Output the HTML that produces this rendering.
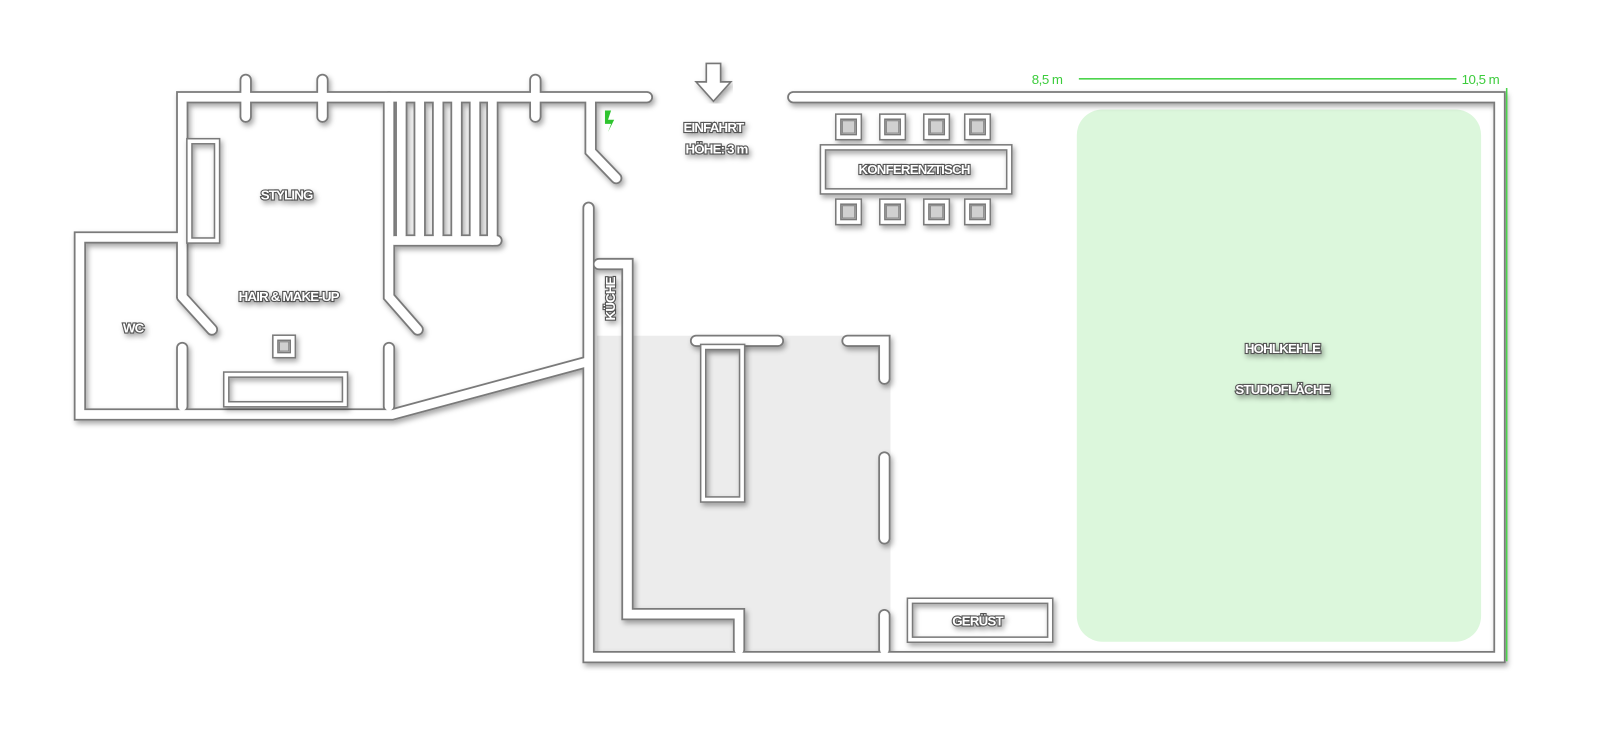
<!DOCTYPE html>
<html><head><meta charset="utf-8"><style>
html,body{margin:0;padding:0;background:#fff;}
svg{display:block;}
.t{font-family:"Liberation Sans",sans-serif;font-weight:bold;font-size:13px;fill:#fff;stroke:#555;stroke-width:2.2px;paint-order:stroke;text-anchor:middle;letter-spacing:-0.8px;}
.g{font-family:"Liberation Sans",sans-serif;font-size:13px;fill:#3ccc3c;letter-spacing:-0.5px;}
</style></head><body>
<svg width="1605" height="740" viewBox="0 0 1568 723" xmlns="http://www.w3.org/2000/svg">
<defs>
<filter id="sh" x="-5%" y="-5%" width="110%" height="110%"><feDropShadow dx="2" dy="3" stdDeviation="2.5" flood-color="#000" flood-opacity="0.35"/></filter>
<g id="w" fill="none" stroke-linecap="round" stroke-linejoin="miter">
<path d="M178 290 L178 95 L632 95"/>
<path d="M178 290 L207 322"/>
<path d="M178 340 L178 397"/>
<path d="M178 232 L78 232 L78 405 L383 405 L572 354"/>
<path d="M380 95 L380 290 L408 322"/>
<path d="M380 340 L380 397"/>
<path d="M392 98 L392 230 M410 98 L410 230 M428 98 L428 230 M446 98 L446 230 M464 98 L464 230 M481 98 L481 235"/>
<path d="M385 235 L485 235"/>
<path d="M240 78 L240 114 M315 78 L315 114 M523 78 L523 114"/>
<path d="M577 98 L577 148 L602 174"/>
<path d="M575 203 L575 642 L1465 642 L1465 95 L775 95"/>
<path d="M585 258 L613 258 L613 600 L722 600 L722 635"/>
<path d="M680 333 L760 333"/>
<path d="M828 333 L864 333 L864 370"/>
<path d="M864 447 L864 526"/>
<path d="M864 601 L864 635"/>
</g>
<g id="f" fill="none">
<rect x="185" y="138" width="27" height="97"/>
<rect x="221" y="366" width="116" height="29"/>
<rect x="269" y="330" width="17" height="17"/>
<rect x="687" y="339" width="38" height="149"/>
<rect x="889" y="587" width="137" height="38"/>
<rect x="804" y="144" width="182" height="43"/>
<rect x="819" y="114" width="20" height="20"/><rect x="862" y="114" width="20" height="20"/><rect x="905" y="114" width="20" height="20"/><rect x="945" y="114" width="20" height="20"/>
<rect x="819" y="197" width="20" height="20"/><rect x="862" y="197" width="20" height="20"/><rect x="905" y="197" width="20" height="20"/><rect x="945" y="197" width="20" height="20"/>
</g>
</defs>
<rect x="583" y="328" width="287" height="309" fill="#ececec"/>
<rect x="1052" y="107" width="395" height="520" rx="25" fill="#dcf7dc"/>
<use href="#w" stroke="#7a7a7a" stroke-width="12" filter="url(#sh)"/>
<use href="#w" stroke="#fff" stroke-width="8.5"/>
<use href="#f" stroke="#7a7a7a" stroke-width="6.5" filter="url(#sh)"/>
<use href="#f" stroke="#fff" stroke-width="3.5"/>
<g fill="#d0d0d0" stroke="#888" stroke-width="1">
<rect x="823" y="118" width="12" height="12"/><rect x="866" y="118" width="12" height="12"/><rect x="909" y="118" width="12" height="12"/><rect x="949" y="118" width="12" height="12"/>
<rect x="823" y="201" width="12" height="12"/><rect x="866" y="201" width="12" height="12"/><rect x="909" y="201" width="12" height="12"/><rect x="949" y="201" width="12" height="12"/>
<rect x="273" y="334" width="9" height="9"/>
</g>
<path d="M690 62 L704 62 L704 80 L714 80 L697 99 L680 80 L690 80 Z" fill="#fff" stroke="#777" stroke-width="1.6" filter="url(#sh)"/>
<path d="M591 108 L597 108 L594 117 L600 117 L594 129 L597 121 L591 121 Z" fill="#2ec42e"/>
<line x1="1054" y1="77" x2="1423" y2="77" stroke="#4cd44c" stroke-width="1.5"/>
<line x1="1472" y1="86" x2="1472" y2="646" stroke="#4cd44c" stroke-width="1.5"/>
<text class="g" x="1008" y="82">8,5 m</text>
<text class="g" x="1428" y="82">10,5 m</text>
<g filter="url(#sh)">
<text class="t" x="280" y="195">STYLING</text>
<text class="t" x="282" y="294">HAIR &amp; MAKE-UP</text>
<text class="t" x="130" y="325">WC</text>
<text class="t" x="697" y="129">EINFAHRT</text>
<text class="t" x="700" y="150">HÖHE: 3 m</text>
<text class="t" x="893" y="170">KONFERENZTISCH</text>
<text class="t" x="955" y="611">GERÜST</text>
<text class="t" x="1253" y="345">HOHLKEHLE</text>
<text class="t" x="1253" y="385">STUDIOFLÄCHE</text>
<text class="t" transform="translate(601,292) rotate(-90)" x="0" y="0">KÜCHE</text>
</g>
</svg>
</body></html>
